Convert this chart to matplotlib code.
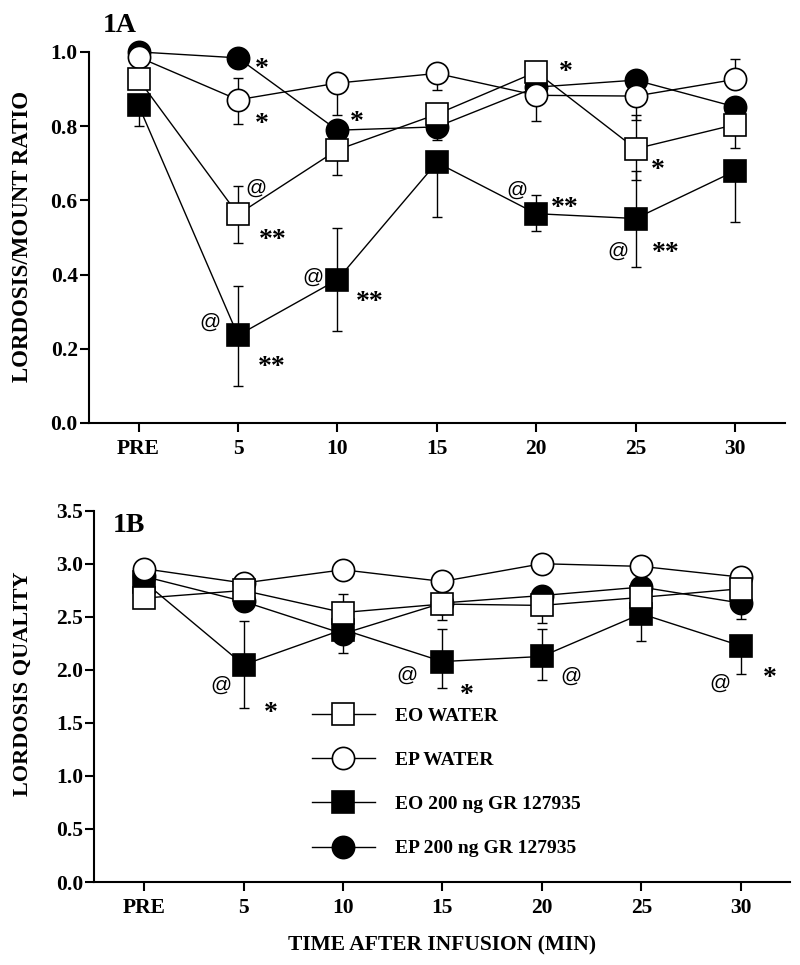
import matplotlib.pyplot as plt
from matplotlib.lines import Line2D

plt.rcParams['font.family'] = ['Liberation Serif', 'DejaVu Serif']
plt.rcParams['font.weight'] = 'bold'
plt.rcParams['axes.labelweight'] = 'bold'

# --- DATA ---
TIMES = ['PRE', '5', '10', '15', '20', '25', '30']
LABELS = ['EO WATER', 'EP WATER', 'EO 200 ng GR 127935', 'EP 200 ng GR 127935']

# 1A: lordosis / mount ratio
eo_water_a = [0.926, 0.562, 0.736, 0.832, 0.946, 0.739, 0.804]
eo_water_a_lo = [0, 0.077, 0.068, 0, 0, 0.085, 0.064]
eo_water_a_hi = [0, 0.076, 0, 0, 0, 0.09, 0]

ep_water_a = [0.986, 0.871, 0.916, 0.942, 0.883, 0.881, 0.926]
ep_water_a_lo = [0, 0.064, 0.085, 0.045, 0.069, 0.065, 0]
ep_water_a_hi = [0, 0.06, 0, 0, 0, 0, 0.056]

eo_gr_a = [0.856, 0.236, 0.386, 0.702, 0.564, 0.551, 0.679]
eo_gr_a_lo = [0.056, 0.136, 0.139, 0.148, 0.047, 0.131, 0.137]
eo_gr_a_hi = [0, 0.132, 0.139, 0, 0.05, 0.128, 0]

ep_gr_a = [1.0, 0.984, 0.789, 0.798, 0.905, 0.924, 0.852]
ep_gr_a_lo = [0, 0, 0, 0.036, 0, 0, 0]
ep_gr_a_hi = [0, 0, 0, 0, 0, 0, 0]

# 1B: lordosis quality
eo_water_b = [2.676, 2.748, 2.54, 2.62, 2.607, 2.683, 2.764]
eo_water_b_lo = [0, 0, 0, 0.15, 0.17, 0, 0]
eo_water_b_hi = [0, 0, 0.17, 0, 0, 0, 0]

ep_water_b = [2.953, 2.818, 2.943, 2.833, 3.0, 2.975, 2.874]
ep_water_b_lo = [0, 0, 0, 0, 0, 0, 0]
ep_water_b_hi = [0, 0, 0, 0, 0, 0, 0]

eo_gr_b = [2.83, 2.047, 2.38, 2.078, 2.126, 2.528, 2.226]
eo_gr_b_lo = [0, 0.41, 0.22, 0.25, 0.22, 0.26, 0.27]
eo_gr_b_hi = [0, 0.41, 0, 0.31, 0.26, 0, 0]

ep_gr_b = [2.88, 2.644, 2.34, 2.63, 2.70, 2.78, 2.629]
ep_gr_b_lo = [0, 0, 0, 0, 0, 0, 0.15]
ep_gr_b_hi = [0, 0, 0, 0, 0, 0, 0]

# significance marks (text, x index, y)
marks_a = [('*', 1.24, 0.968), ('*', 1.24, 0.82), ('@', 1.18, 0.632),
           ('**', 1.35, 0.508), ('@', 0.715, 0.272), ('**', 1.336, 0.164),
           ('*', 2.2, 0.825), ('@', 1.755, 0.394), ('**', 2.33, 0.34),
           ('*', 4.3, 0.96), ('@', 3.81, 0.627), ('**', 4.29, 0.593),
           ('*', 5.22, 0.695), ('@', 4.82, 0.464), ('**', 5.3, 0.473)]
marks_b = [('@', 0.77, 1.858), ('*', 1.27, 1.64), ('@', 2.64, 1.95),
           ('*', 3.25, 1.81), ('@', 4.29, 1.94), ('@', 5.79, 1.875),
           ('*', 6.29, 1.97)]

# --- STYLE ---
# drawing order: EP GR at the bottom, EO water on top
STYLES = {
    'EO WATER': dict(marker='s', mfc='white', z=6),
    'EP WATER': dict(marker='o', mfc='white', z=5),
    'EO 200 ng GR 127935': dict(marker='s', mfc='black', z=4),
    'EP 200 ng GR 127935': dict(marker='o', mfc='black', z=3),
}
MS = 16


def draw_panel(ax, series, ylim, yticks, marks):
    x = list(range(len(TIMES)))
    for label, vals, lo, hi in series:
        ax.errorbar(x, vals, yerr=[lo, hi], fmt='none', ecolor='black',
                    elinewidth=1.0, capsize=3.6, capthick=1.0, zorder=1)
    for label, vals, lo, hi in series:
        ax.plot(x, vals, color='black', lw=1.0, zorder=2, clip_on=False)
    for label, vals, lo, hi in series:
        st = STYLES[label]
        ax.plot(x, vals, ls='none', marker=st['marker'], ms=MS,
                mfc=st['mfc'], mec='black', mew=1.2, zorder=st['z'],
                clip_on=False)

    for txt, mx, my in marks:
        if '@' in txt:
            ax.text(mx, my, txt, ha='center', va='center', fontsize=15,
                    family=['Liberation Sans', 'DejaVu Sans'],
                    fontweight='normal', zorder=8)
        else:
            ax.annotate(txt, (mx, my), xytext=(0, -4), textcoords='offset points',
                        ha='center', va='center', fontsize=20, zorder=8)

    ax.set_xlim(-0.5, 6.5)
    ax.set_ylim(*ylim)
    ax.set_xticks(x)
    ax.set_xticklabels(TIMES)
    ax.set_yticks(yticks)
    ax.set_yticklabels([f'{t:.1f}' for t in yticks])
    ax.spines['top'].set_visible(False)
    ax.spines['right'].set_visible(False)
    for s in ('left', 'bottom'):
        ax.spines[s].set_linewidth(1.5)
    ax.tick_params(axis='both', direction='out', length=6.5, width=1.5,
                   labelsize=15.5)
    ax.tick_params(axis='x', pad=5)
    ax.tick_params(axis='y', pad=1.5)


fig = plt.figure(figsize=(8, 9.65), dpi=100)
ax_a = fig.add_axes([0.111, 0.5617, 0.87, 0.3845])
ax_b = fig.add_axes([0.118, 0.0860, 0.87, 0.3848])

series_a = [
    ('EP 200 ng GR 127935', ep_gr_a, ep_gr_a_lo, ep_gr_a_hi),
    ('EO 200 ng GR 127935', eo_gr_a, eo_gr_a_lo, eo_gr_a_hi),
    ('EP WATER', ep_water_a, ep_water_a_lo, ep_water_a_hi),
    ('EO WATER', eo_water_a, eo_water_a_lo, eo_water_a_hi),
]
series_b = [
    ('EP 200 ng GR 127935', ep_gr_b, ep_gr_b_lo, ep_gr_b_hi),
    ('EO 200 ng GR 127935', eo_gr_b, eo_gr_b_lo, eo_gr_b_hi),
    ('EP WATER', ep_water_b, ep_water_b_lo, ep_water_b_hi),
    ('EO WATER', eo_water_b, eo_water_b_lo, eo_water_b_hi),
]

draw_panel(ax_a, series_a, (0, 1.0), [0.0, 0.2, 0.4, 0.6, 0.8, 1.0], marks_a)
draw_panel(ax_b, series_b, (0, 3.5), [0.0, 0.5, 1.0, 1.5, 2.0, 2.5, 3.0, 3.5], marks_b)

ax_a.set_ylabel('LORDOSIS/MOUNT RATIO', fontsize=16.5)
ax_a.yaxis.set_label_coords(-0.080, 0.504)
ax_b.set_ylabel('LORDOSIS QUALITY', fontsize=16)
ax_b.yaxis.set_label_coords(-0.0887, 0.533)
ax_b.set_xlabel('TIME AFTER INFUSION (MIN)', fontsize=15.5)
ax_b.xaxis.set_label_coords(0.5, -0.143)

ax_a.text(0.02, 1.054, '1A', transform=ax_a.transAxes, fontsize=20,
          ha='left', va='baseline')
ax_b.text(0.026, 0.943, '1B', transform=ax_b.transAxes, fontsize=20,
          ha='left', va='baseline')

handles = [Line2D([0], [0], color='black', lw=1.0, marker=STYLES[l]['marker'],
                  ms=MS, mfc=STYLES[l]['mfc'], mec='black', mew=1.2)
           for l in LABELS]
ax_b.legend(handles, LABELS, loc='upper left', bbox_to_anchor=(0.3125, 0.471),
            frameon=False, fontsize=14, handlelength=3.25, handletextpad=1.0,
            labelspacing=1.37, borderpad=0, borderaxespad=0, numpoints=1)

fig.savefig('out.png', dpi=100)
